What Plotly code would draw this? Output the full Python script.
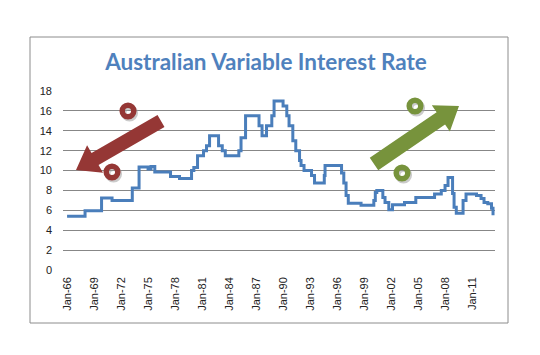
import plotly.graph_objects as go

# ---- data (change points of a step series) ----
dates = [
    "1966-01", "1968-01", "1969-11", "1971-01", "1973-04", "1974-01", "1975-01",
    "1975-05", "1975-10", "1977-07", "1978-07", "1979-11", "1980-02", "1980-07",
    "1981-03", "1981-07", "1981-11", "1982-11", "1983-04", "1983-08", "1985-02",
    "1985-05", "1985-11", "1987-05", "1987-09", "1988-03", "1988-10", "1989-01",
    "1990-01", "1990-06", "1990-09", "1991-02", "1991-06", "1991-11", "1992-01",
    "1992-05", "1993-03", "1993-07", "1994-08", "1994-09", "1996-07", "1996-10",
    "1997-01", "1997-04", "1998-09", "2000-02", "2000-04", "2000-06", "2001-02",
    "2001-05", "2001-10", "2002-03", "2003-07", "2004-10", "2006-11", "2007-08",
    "2008-01", "2008-05", "2008-11", "2009-01", "2009-04", "2010-01", "2010-05",
    "2011-07", "2012-01", "2012-05", "2012-10", "2013-03", "2013-05",
]
rates = [
    5.4, 5.95, 7.25, 7.0, 8.25, 10.35, 10.15,
    10.4, 9.85, 9.4, 9.2, 10.0, 10.3, 11.5,
    12.0, 12.5, 13.5, 12.5, 12.0, 11.5, 12.0,
    13.3, 15.5, 14.5, 13.5, 14.5, 15.5, 17.0,
    16.5, 15.5, 14.5, 13.0, 12.0, 11.0, 10.5,
    10.0, 9.5, 8.75, 9.5, 10.5, 9.75, 8.75,
    7.5, 6.7, 6.5, 7.0, 7.8, 8.0, 7.3,
    6.8, 6.05, 6.55, 6.8, 7.3, 7.65, 8.0,
    8.5, 9.3, 7.7, 6.3, 5.7, 7.0, 7.65,
    7.5, 7.2, 6.8, 6.65, 6.2, 5.5,
]
tick_dates = ["1966-01-01", "1969-01-01", "1972-01-01", "1975-01-01", "1978-01-01",
              "1981-01-01", "1984-01-01", "1987-01-01", "1990-01-01", "1993-01-01",
              "1996-01-01", "1999-01-01", "2002-01-01", "2005-01-01", "2008-01-01",
              "2011-01-01"]
tick_labels = ["Jan-66", "Jan-69", "Jan-72", "Jan-75", "Jan-78", "Jan-81", "Jan-84",
               "Jan-87", "Jan-90", "Jan-93", "Jan-96", "Jan-99", "Jan-02", "Jan-05",
               "Jan-08", "Jan-11"]
y_ticks = [0, 2, 4, 6, 8, 10, 12, 14, 16, 18]
title_text = "Australian Variable Interest Rate"

# ---- layout geometry (pixels) ----
W, H = 540, 355
L, R, T, B = 63, 45, 90, 84
PW, PH = W - L - R, H - T - B


def px(x):
    return (x - L) / PW


def py(y):
    return (H - B - y) / PH


def arrow_path(tail, tip, half_shaft, head_len, half_head):
    import math
    dx, dy = tip[0] - tail[0], tip[1] - tail[1]
    d = math.hypot(dx, dy)
    ux, uy = dx / d, dy / d
    nx, ny = -uy, ux
    bx, by = tip[0] - ux * head_len, tip[1] - uy * head_len
    pts = [
        (tail[0] + nx * half_shaft, tail[1] + ny * half_shaft),
        (bx + nx * half_shaft, by + ny * half_shaft),
        (bx + nx * half_head, by + ny * half_head),
        tip,
        (bx - nx * half_head, by - ny * half_head),
        (bx - nx * half_shaft, by - ny * half_shaft),
        (tail[0] - nx * half_shaft, tail[1] - ny * half_shaft),
    ]
    return "M " + " L ".join(f"{px(a):.5f},{py(b):.5f}" for a, b in pts) + " Z"


RED = "#953735"
GREEN = "#77933C"

fig = go.Figure()
fig.add_trace(go.Scatter(
    x=dates, y=rates, mode="lines", line=dict(color="#4A7EBB", width=3, shape="hv"),
    hoverinfo="skip", showlegend=False,
))

shapes = []
# chart border
shapes.append(dict(type="rect", xref="paper", yref="paper",
                   x0=px(30), x1=px(508), y0=py(323), y1=py(37),
                   line=dict(color="#8C8C8C", width=1), fillcolor="rgba(0,0,0,0)",
                   layer="below"))
# arrows
shapes.append(dict(type="path", xref="paper", yref="paper",
                   path=arrow_path((161, 121), (76, 170), 7, 22, 16),
                   fillcolor=RED, line=dict(width=0)))
shapes.append(dict(type="path", xref="paper", yref="paper",
                   path=arrow_path((374, 164), (459, 106), 7.5, 22, 16),
                   fillcolor=GREEN, line=dict(width=0)))
# percent "o" rings with soft shadow
for (cx, cy, col) in [(128, 111, RED), (112, 172, RED), (415, 106, GREEN), (402, 173, GREEN)]:
    r = 5.8
    shapes.append(dict(type="circle", xref="paper", yref="paper",
                       x0=px(cx - r + 1.5), x1=px(cx + r + 1.5),
                       y0=py(cy + r + 2), y1=py(cy - r + 2),
                       line=dict(color="rgba(160,160,160,0.55)", width=5.5)))
    shapes.append(dict(type="circle", xref="paper", yref="paper",
                       x0=px(cx - r), x1=px(cx + r), y0=py(cy + r), y1=py(cy - r),
                       line=dict(color=col, width=5.5)))

fig.update_layout(
    width=W, height=H, autosize=False,
    margin=dict(l=L, r=R, t=T, b=B, pad=0),
    paper_bgcolor="white", plot_bgcolor="white",
    title=dict(text=title_text, x=266 / W, xanchor="center", xref="container",
               y=1 - 62 / H, yanchor="middle", yref="container",
               font=dict(family="Lato", size=22.5, color="#4F81BD", weight="bold")),
    font=dict(family="Liberation Sans", size=11, color="#222222"),
    shapes=shapes,
    xaxis=dict(type="date", range=["1965-07-20", "2013-07-20"],
               tickvals=tick_dates, ticktext=tick_labels, tickangle=-90,
               showgrid=False, zeroline=False, showline=False, ticks="",
               ticklabelstandoff=3, fixedrange=True),
    yaxis=dict(range=[-0.1, 18.1], tickvals=y_ticks, showgrid=True,
               gridcolor="#878787", gridwidth=1, zeroline=False, showline=False,
               ticks="", ticklabelstandoff=10, fixedrange=True),
)

fig.write_html("out.html", config={"displayModeBar": False},
               post_script="document.body.style.margin='0px';document.body.style.overflow='hidden';")
